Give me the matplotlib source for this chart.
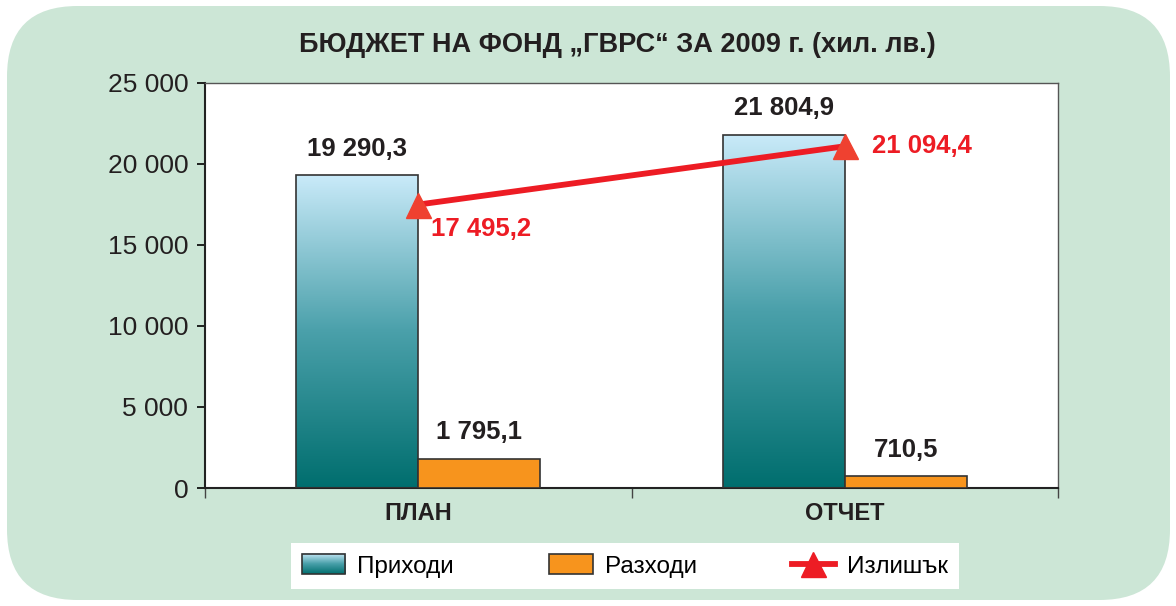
import matplotlib
matplotlib.use('Agg')
import matplotlib.pyplot as plt
import numpy as np
from matplotlib.patches import FancyBboxPatch, Rectangle
from matplotlib.lines import Line2D
from matplotlib.colors import LinearSegmentedColormap
from matplotlib.legend_handler import HandlerBase
from matplotlib.image import BboxImage
from matplotlib.transforms import Bbox, TransformedBbox

plt.rcParams['font.family'] = ['Liberation Sans', 'DejaVu Sans']

# ── Data ─────────────────────────────────────────────────────────────────────
categories = ['ПЛАН', 'ОТЧЕТ']
income = [19290.3, 21804.9]      # Приходи
expense = [1795.1, 710.5]        # Разходи
surplus = [17495.2, 21094.4]     # Излишък
yticks = [0, 5000, 10000, 15000, 20000, 25000]

GREEN_BG = '#cce6d6'
ORANGE = '#f7941d'
RED = '#ed1c24'
MARKER_RED = '#ef4130'
EDGE = '#333333'
grad_cmap = LinearSegmentedColormap.from_list('teal', ['#006e6e', '#4aa0aa', '#c9eaf9'])


def fmt(v, dec=1):
    s = f'{v:,.{dec}f}'
    return s.replace(',', ' ').replace('.', ',')


fig = plt.figure(figsize=(11.76, 6.06), dpi=100)
fig.patch.set_facecolor('white')

# rounded green panel
panel = FancyBboxPatch((7/1176, 6/606), 1163/1176, 594/606,
                       boxstyle='round,pad=0,rounding_size=0.06',
                       transform=fig.transFigure, facecolor=GREEN_BG,
                       edgecolor='none', zorder=-5, mutation_aspect=1176/606)
fig.patches.append(panel)

ax = fig.add_axes([205/1176, 1-488/606, 853/1176, 405/606])
ax.set_zorder(2)
ax.set_facecolor('white')
ax.set_xlim(-0.5, 1.5)
ax.set_ylim(0, 25000)

x = np.arange(len(categories))
w = 0.286

# income bars with vertical gradient
grad = np.linspace(0, 1, 256).reshape(-1, 1)
bars_inc = ax.bar(x - w/2, income, width=w, facecolor='none', edgecolor=EDGE,
                  linewidth=1.2, zorder=3)
for b in bars_inc:
    im = ax.imshow(grad, cmap=grad_cmap, origin='lower', aspect='auto',
                   extent=[b.get_x(), b.get_x()+b.get_width(), 0, b.get_height()],
                   zorder=2)
    im.set_clip_path(b)
bars_exp = ax.bar(x + w/2, expense, width=w, color=ORANGE, edgecolor=EDGE,
                  linewidth=1.2, zorder=3)
ax.set_xlim(-0.5, 1.5)
ax.set_ylim(0, 25000)

ax.plot(x, surplus, color=RED, lw=4.2, marker='^', markersize=18,
        markerfacecolor=MARKER_RED, markeredgecolor=MARKER_RED, zorder=5,
        clip_on=False)

# value labels
for b, v in zip(bars_inc, income):
    ax.text(b.get_x()+b.get_width()/2, v + 900, fmt(v), ha='center', va='bottom',
            fontsize=18.5, fontweight='bold', color='#231f20')
for b, v in zip(bars_exp, expense):
    ax.text(b.get_x()+b.get_width()/2, v + 900, fmt(v), ha='center', va='bottom',
            fontsize=18.5, fontweight='bold', color='#231f20')
ax.text(x[0] + 0.03, surplus[0] - 1500, fmt(surplus[0]), ha='left', va='center',
        fontsize=18.5, fontweight='bold', color=RED)
ax.text(x[1] + 0.065, surplus[1], fmt(surplus[1]), ha='left', va='center',
        fontsize=18.5, fontweight='bold', color=RED)

# axes styling
ax.set_yticks(yticks)
ax.set_yticklabels([fmt(t, 0) for t in yticks], fontsize=19, color='#231f20')
ax.tick_params(axis='y', direction='out', length=6, width=1.2, pad=6)
ax.set_xticks(x)
ax.set_xticklabels(categories, fontsize=17, fontweight='bold', color='#231f20')
ax.tick_params(axis='x', length=0, pad=10)
ax.set_xticks([-0.5, 0.5, 1.5], minor=True)
ax.tick_params(axis='x', which='minor', direction='out', length=7, width=1.0,
               color='#444')
for side in ['left', 'bottom']:
    ax.spines[side].set_linewidth(1.5)
    ax.spines[side].set_color('#222')
for side in ['top', 'right']:
    ax.spines[side].set_linewidth(1.0)
    ax.spines[side].set_color('#555')

fig.text(617/1176, 1-45/606, 'БЮДЖЕТ НА ФОНД „ГВРС“ ЗА 2009 г. (хил. лв.)',
         ha='center', va='center', fontsize=19.5, fontweight='bold', color='#231f20')


# legend with gradient swatch
class GradientHandler(HandlerBase):
    def create_artists(self, legend, orig_handle, xdescent, ydescent,
                       width, height, fontsize, trans):
        bb = Bbox.from_bounds(-xdescent, -ydescent, width, height)
        img = BboxImage(TransformedBbox(bb, trans), cmap=grad_cmap, origin='lower')
        img.set_data(grad)
        rect = Rectangle((-xdescent, -ydescent), width, height, transform=trans,
                         facecolor='none', edgecolor=EDGE, lw=1.2)
        return [img, rect]


h_inc = Rectangle((0, 0), 1, 1)
h_exp = Rectangle((0, 0), 1, 1, facecolor=ORANGE, edgecolor=EDGE, lw=1.2)
h_sur = Line2D([], [], color=RED, lw=4.2, marker='^', markersize=18)
leg = fig.legend([h_inc, h_exp, h_sur], ['Приходи', 'Разходи', 'Излишък'],
                 handler_map={h_inc: GradientHandler()},
                 loc='center', bbox_to_anchor=(625/1176, 1-566/606), ncol=3,
                 fontsize=17.5, frameon=True, fancybox=False, edgecolor='white',
                 framealpha=1, handlelength=1.8, handleheight=0.9,
                 columnspacing=3.9, handletextpad=0.5, borderpad=0.45)
leg.get_frame().set_linewidth(0)

fig.savefig('out.png', dpi=100, facecolor='white')
